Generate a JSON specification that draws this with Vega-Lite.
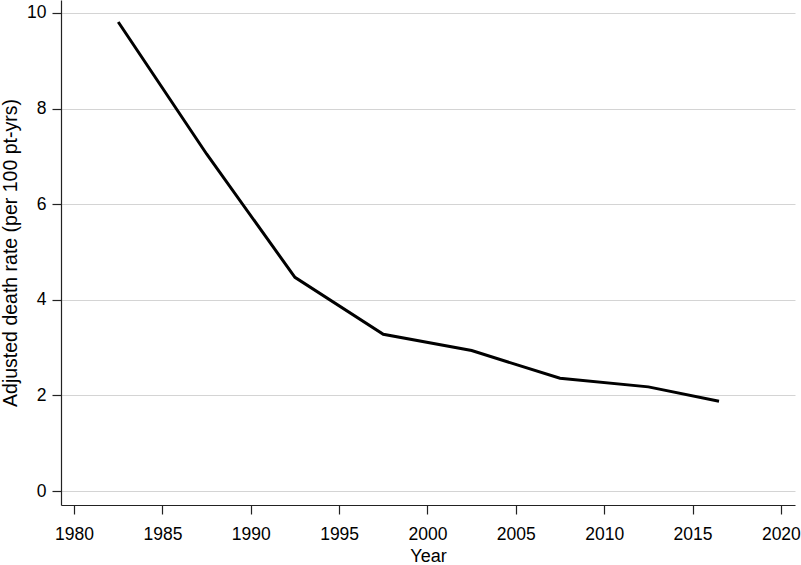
{
  "$schema": "https://vega.github.io/schema/vega-lite/v6.json",
  "autosize": "none",
  "width": 734,
  "height": 505,
  "padding": {"left": 61, "top": 0, "right": 6, "bottom": 60},
  "background": "white",
  "config": {
    "view": {"stroke": null},
    "font": "Liberation Sans",
    "axis": {
      "labelFont": "Liberation Sans",
      "titleFont": "Liberation Sans",
      "labelFontSize": 17.5,
      "titleFontSize": 18,
      "titleFontWeight": "normal",
      "labelColor": "#000",
      "titleColor": "#000",
      "domainColor": "#222",
      "tickColor": "#222",
      "domainWidth": 1.2,
      "tickWidth": 1.2,
      "tickSize": 9,
      "gridColor": "#d4d4d4",
      "gridWidth": 1
    }
  },
  "data": {
    "values": [
      {"year": 1982.5, "rate": 9.81},
      {"year": 1987.5, "rate": 7.05},
      {"year": 1992.5, "rate": 4.47},
      {"year": 1997.5, "rate": 3.28},
      {"year": 2002.5, "rate": 2.94},
      {"year": 2007.5, "rate": 2.36},
      {"year": 2012.5, "rate": 2.18},
      {"year": 2016.5, "rate": 1.88}
    ]
  },
  "mark": {"type": "line", "color": "#000", "strokeWidth": 3},
  "encoding": {
    "x": {
      "field": "year",
      "type": "quantitative",
      "title": "Year",
      "scale": {"domain": [1979.26, 2020.8], "nice": false, "zero": false},
      "axis": {
        "values": [1980, 1985, 1990, 1995, 2000, 2005, 2010, 2015, 2020],
        "format": "d",
        "grid": false,
        "labelPadding": 11,
        "titlePadding": 5
      }
    },
    "y": {
      "field": "rate",
      "type": "quantitative",
      "title": "Adjusted death rate (per 100 pt-yrs)",
      "scale": {"domain": [-0.29, 10.27], "nice": false, "zero": false},
      "axis": {
        "values": [0, 2, 4, 6, 8, 10],
        "grid": true,
        "labelPadding": 6,
        "titlePadding": 6,
        "titleFontSize": 19.5
      }
    }
  }
}
